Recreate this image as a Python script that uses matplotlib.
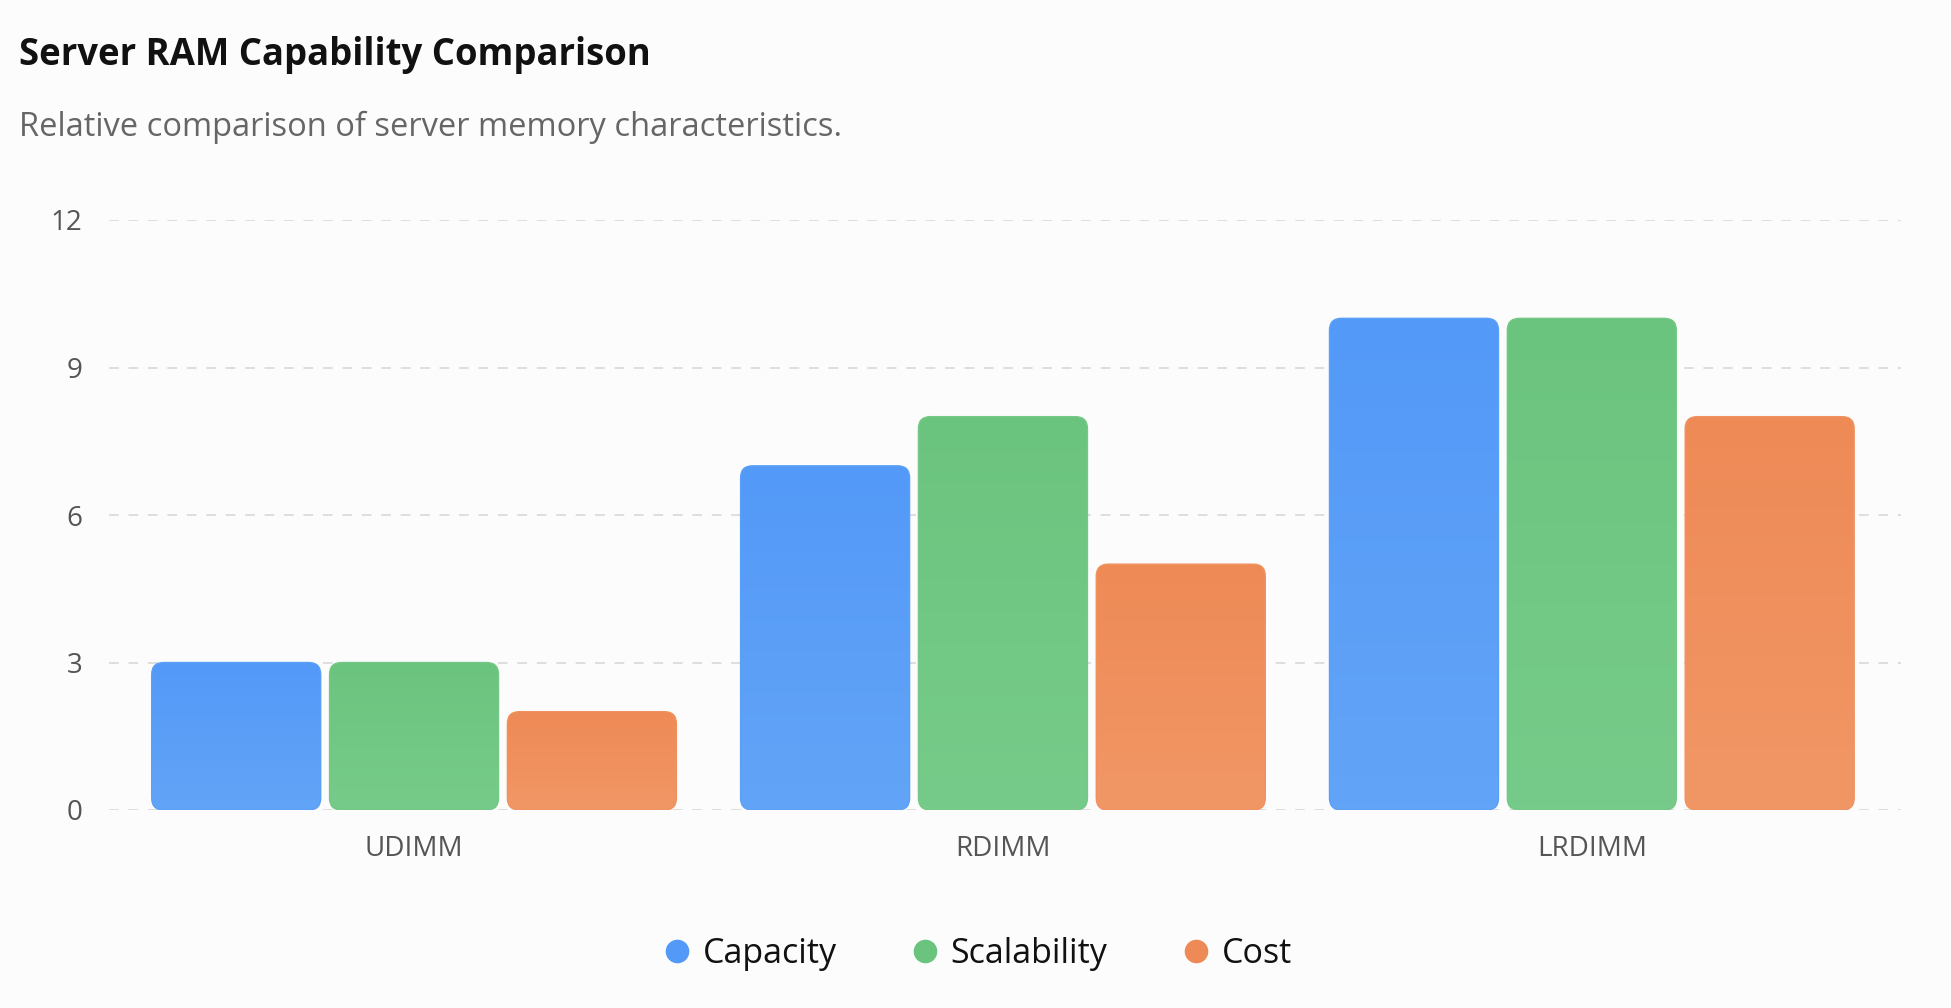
import numpy as np
import matplotlib
matplotlib.use('Agg')
import matplotlib.pyplot as plt
from matplotlib.patches import FancyBboxPatch
from matplotlib.lines import Line2D
from matplotlib.colors import to_rgb

categories = ['UDIMM', 'RDIMM', 'LRDIMM']
series_names = ['Capacity', 'Scalability', 'Cost']
capacity = [3, 7, 10]
scalability = [3, 8, 10]
cost = [2, 5, 8]
y_ticks = [0, 3, 6, 9, 12]

top_colors = ['#5399F8', '#6BC47E', '#EE8A56']
bot_colors = ['#62A4F6', '#77CB8A', '#F19766']
edge_colors = ['#5BA0F8', '#74C986', '#F0925F']

plt.rcParams['font.family'] = ['Open Sans', 'DejaVu Sans']

W, H = 1951, 1008
fig = plt.figure(figsize=(W / 100, H / 100), dpi=100)
fig.patch.set_facecolor('#FCFCFC')

ax_l, ax_r, ax_t, ax_b = 109, 1901, 220, 810
ax = fig.add_axes([ax_l / W, 1 - ax_b / H, (ax_r - ax_l) / W, (ax_b - ax_t) / H])
ax.set_facecolor('#FCFCFC')

for s in ax.spines.values():
    s.set_visible(False)
ax.set_yticks(y_ticks)
ax.set_yticklabels([str(t) for t in y_ticks])
ax.tick_params(axis='y', length=0, pad=19, labelsize=20, labelcolor='#555555')
ax.set_xticks(range(len(categories)))
ax.set_xticklabels(categories)
ax.tick_params(axis='x', length=0, pad=18, labelsize=20, labelcolor='#555555')
for t in y_ticks:
    ax.axhline(t, color='#DEDEDE', lw=1.4, ls=(0, (5, 5)), zorder=0)

width = 0.287
step = 0.302
x = np.arange(len(categories))
all_vals = [capacity, scalability, cost]

# pixels per data unit, used to keep the corners round
px_x = (ax_r - ax_l) / (2.525 + 0.518)
px_y = (ax_b - ax_t) / 12
aspect = px_x / px_y
rad = 12 / px_x

for i, vals in enumerate(all_vals):
    bars = ax.bar(x + (i - 1) * step, vals, width, color='none', edgecolor='none')
    c0 = np.array(to_rgb(top_colors[i]))
    c1 = np.array(to_rgb(bot_colors[i]))
    for b in bars:
        bx, by = b.get_x(), b.get_y()
        bw, bh = b.get_width(), b.get_height()
        p = FancyBboxPatch((bx, by), bw, bh,
                           boxstyle='round,pad=0,rounding_size=%f' % rad,
                           mutation_aspect=aspect, facecolor='none',
                           edgecolor=edge_colors[i], lw=1.0, zorder=3)
        ax.add_patch(p)
        grad = np.linspace(0, 1, 100)[:, None, None]
        img = c0 + (c1 - c0) * grad
        im = ax.imshow(img, extent=(bx, bx + bw, by, by + bh), origin='upper',
                       aspect='auto', zorder=2)
        im.set_clip_path(p)

ax.set_xlim(-0.518, 2.525)
ax.set_ylim(0, 12)

fig.text(19 / W, 1 - 65 / H, 'Server RAM Capability Comparison', fontsize=26.3,
         fontweight='bold', color='#111111', va='baseline')
fig.text(19 / W, 1 - 136 / H, 'Relative comparison of server memory characteristics.',
         fontsize=23.5, color='#666666', va='baseline')

handles = [Line2D([], [], marker='o', ls='none', markersize=17,
                  markerfacecolor=top_colors[i], markeredgecolor='none')
           for i in range(3)]
leg = fig.legend(handles, series_names, loc='center', bbox_to_anchor=(976 / W, 1 - 954 / H),
                 ncol=3, frameon=False, fontsize=24.5, handletextpad=0.25,
                 columnspacing=2.1, handlelength=1.0)
for t in leg.get_texts():
    t.set_color('#111111')

fig.savefig('out.png', dpi=100, facecolor=fig.get_facecolor())
